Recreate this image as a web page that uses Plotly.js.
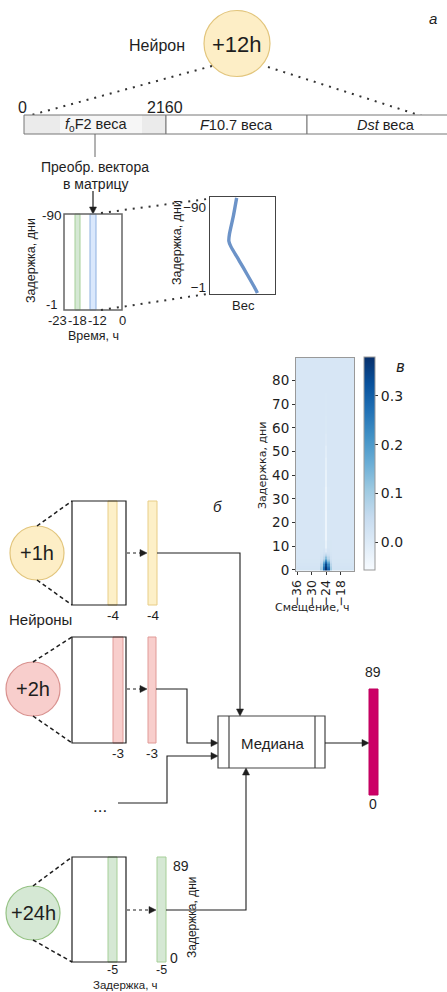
<!DOCTYPE html>
<html>
<head>
<meta charset="utf-8">
<script src="https://cdn.plot.ly/plotly-3.0.1.min.js"></script>
<style>html,body{margin:0;padding:0;background:#fff;}#chart{width:447px;height:992px;}</style>
</head>
<body>
<div id="chart"></div>
<script>
// ---------- data ----------
const topNeuron = '+12h';
const topNeuronLabel = 'Нейрон';
const vectorTicks = ['0', '2160'];
const segmentLabels = ['<i>f</i><sub>o</sub>F2 веса', '<i>F</i>10.7 веса', '<i>Dst</i> веса'];
const reshapeLabel = ['Преобр. вектора', 'в матрицу'];
const matrixTimeTicks = ['-23', '-18', '-12', '0'];
const matrixLagTicks = ['-90', '-1'];
const weightLag = [-100, -80, -60, -52, -46, -30, -15, -1, 6];
const weightValue = [0.41, 0.36, 0.30, 0.29, 0.32, 0.45, 0.57, 0.68, 0.73];
const weightLagTicks = [-90, -1];
const neurons = ['+1h', '+2h', '+24h'];
const neuronLead = ['-4', '-3', '-5'];
const outputTicks = ['89', '0'];

const hmShift = [-36, -35, -34, -33, -32, -31, -30, -29, -28, -27, -26, -25, -24, -23, -22, -21, -20, -19, -18, -17, -16, -15, -14, -13];
const hmLag = [0, 1, 2, 3, 4, 5, 6, 7, 8, 10, 15, 20, 30, 40, 45, 50, 55, 60, 70, 80, 89];
const hmBase = [0.022, 0.02, 0.018, 0.016, 0.015, 0.014, 0.014, 0.014, 0.014, 0.014, 0.014, 0.014, 0.014, 0.014, 0.014, 0.014, 0.014, 0.014, 0.014, 0.014, 0.014];
const hmColM26 = [0.1, 0.09, 0.07, 0.05, 0.035, 0.025, 0.02, 0.018, 0.016, 0.015, 0.014, 0.014, 0.014, 0.014, 0.014, 0.014, 0.014, 0.014, 0.014, 0.014, 0.014];
const hmColM25 = [0.28, 0.26, 0.22, 0.16, 0.1, 0.06, 0.04, 0.028, 0.02, 0.016, 0.012, 0.012, 0.012, 0.013, 0.014, 0.014, 0.014, 0.014, 0.014, 0.014, 0.014];
const hmColM24 = [0.38, 0.37, 0.34, 0.28, 0.21, 0.13, 0.07, 0.035, 0.0, -0.025, -0.035, -0.035, -0.032, -0.025, -0.018, -0.008, 0.003, 0.008, 0.012, 0.014, 0.014];
const hmColM23 = [0.3, 0.27, 0.23, 0.17, 0.11, 0.065, 0.04, 0.028, 0.02, 0.016, 0.012, 0.012, 0.012, 0.013, 0.014, 0.014, 0.014, 0.014, 0.014, 0.014, 0.014];
const hmColM22 = [0.1, 0.09, 0.07, 0.05, 0.035, 0.025, 0.02, 0.018, 0.016, 0.015, 0.014, 0.014, 0.014, 0.014, 0.014, 0.014, 0.014, 0.014, 0.014, 0.014, 0.014];
const hmShiftTicks = [-36, -30, -24, -18];
const hmLagTicks = [0, 10, 20, 30, 40, 50, 60, 70, 80];
const cbTicks = [0, 0.1, 0.2, 0.3];
const cbTickText = ['0.0', '0.1', '0.2', '0.3'];

// ---------- helpers ----------
const F = 'Liberation Sans, Arial, sans-serif';
const FD = 'DejaVu Sans, sans-serif';
const INK = '#1e1e1e';
const shapes = [];
const ann = [];
function rect(x0, y0, x1, y1, fill, lc, lw) {
  shapes.push({type: 'rect', xref: 'x', yref: 'y', x0, y0, x1, y1,
    fillcolor: fill || 'rgba(0,0,0,0)', line: {color: lc || 'rgba(0,0,0,0)', width: lw == null ? 1 : lw}});
}
function seg(x0, y0, x1, y1, color, lw, dash) {
  shapes.push({type: 'line', xref: 'x', yref: 'y', x0, y0, x1, y1, line: {color, width: lw, dash: dash || 'solid'}});
}
function path(d, color, lw, fill) {
  shapes.push({type: 'path', xref: 'x', yref: 'y', path: d, fillcolor: fill || 'rgba(0,0,0,0)', line: {color, width: lw}});
}
function circle(cx, cy, r, fill, lc) {
  shapes.push({type: 'circle', xref: 'x', yref: 'y', x0: cx - r, y0: cy - r, x1: cx + r, y1: cy + r,
    fillcolor: fill, line: {color: lc, width: 1.2}});
}
function head(x, y, dir) {
  const L = 7, H = 3.5; let d;
  if (dir === 'down') d = `M${x},${y} L${x - H},${y - L} L${x + H},${y - L} Z`;
  if (dir === 'up') d = `M${x},${y} L${x - H},${y + L} L${x + H},${y + L} Z`;
  if (dir === 'right') d = `M${x},${y} L${x - L},${y - H} L${x - L},${y + H} Z`;
  path(d, INK, 0.5, INK);
}
function txt(x, y, text, size, opt) {
  opt = opt || {};
  ann.push(Object.assign({xref: 'x', yref: 'y', x, y, text, showarrow: false, xanchor: 'center', yanchor: 'middle',
    font: {family: opt.family || F, size, color: opt.color || INK}}, opt.extra || {}));
}

// ---------- panel a ----------
txt(433, 18, '<i>а</i>', 15);
circle(237, 43.5, 33, '#fdeec6', '#e2c57c');
txt(237, 44, topNeuron, 22);
txt(157, 45, topNeuronLabel, 16);
seg(212, 66, 24, 117, '#333', 2, '2px,6px');
seg(268, 67, 447, 124, '#333', 2, '2px,6px');
txt(22, 107, vectorTicks[0], 16);
txt(165, 107, vectorTicks[1], 16);
// weight vector bar
rect(24, 115, 166, 134, '#ebebeb');
rect(60, 115, 142, 134, '#f6f6f6');
rect(24, 115, 166, 134, null, '#777', 1);
rect(166, 115, 307, 134, '#ffffff', '#777', 1);
rect(307, 115, 452, 134, '#ffffff', '#777', 1);
txt(96, 124.5, segmentLabels[0], 14.5);
txt(236, 124.5, segmentLabels[1], 14.5);
txt(386, 124.5, segmentLabels[2], 14.5);
seg(95, 134, 95, 157, '#666', 1);
txt(95, 167, reshapeLabel[0], 14);
txt(95, 184, reshapeLabel[1], 14);
seg(93, 191, 93, 207, INK, 1.2);
head(93, 214, 'down');
// matrix
rect(75, 214, 80, 310, '#d5e8d4', '#a6cf98', 1);
rect(90, 214, 96, 310, '#dae8fc', '#8eb0e0', 1);
rect(64, 214, 122, 310, null, '#666', 1.5);
txt(52, 215, matrixLagTicks[0], 13.5);
txt(52, 304, matrixLagTicks[1], 13);
txt(31, 261, 'Задержка, дни', 12.5, {extra: {textangle: -90}});
txt(57, 320, matrixTimeTicks[0], 13);
txt(77, 320, matrixTimeTicks[1], 13);
txt(97, 320, matrixTimeTicks[2], 13);
txt(122, 320, matrixTimeTicks[3], 13);
txt(93, 336, 'Время, ч', 12.5);
seg(101, 213, 207, 199, '#333', 2, '2px,6px');
seg(101, 310, 207, 294, '#333', 2, '2px,6px');
txt(177, 243, 'Задержка, дни', 12.5, {extra: {textangle: -90}});
txt(243, 305, 'Вес', 13);

// ---------- panel b ----------
txt(217, 506, '<i>б</i>', 15);
const nStyle = [
  {cx: 37, cy: 553, ay: 553, fill: '#fdeec6', lc: '#e2c57c', bandFill: '#fdf0c8', bandLine: '#e8cd86', top: 501, bot: 605, band: [108, 117], bar: [148, 157]},
  {cx: 33, cy: 689, ay: 689, fill: '#f8cecc', lc: '#d9928f', bandFill: '#f8cecc', bandLine: '#e09a97', top: 637, bot: 743, band: [113, 123], bar: [148, 156]},
  {cx: 33, cy: 913, ay: 910, fill: '#d5e8d4', lc: '#95c284', bandFill: '#d5e8d4', bandLine: '#a6cf98', top: 857, bot: 962, band: [108, 117], bar: [157, 166]}
];
neurons.forEach((name, i) => {
  const s = nStyle[i];
  circle(s.cx, s.cy, 27, s.fill, s.lc);
  txt(s.cx, s.cy, name, 20);
  seg(s.cx, s.cy - 27, 72, s.top, INK, 1.5, '4px,3px');
  seg(s.cx, s.cy + 27, 72, s.bot, INK, 1.5, '4px,3px');
  rect(s.band[0], s.top, s.band[1], s.bot, s.bandFill, s.bandLine, 1);
  rect(72, s.top, 126, s.bot, null, INK, 1.2);
  seg(127, s.ay, s.bar[0] - 7, s.ay, INK, 1.2, '3px,3px');
  head(s.bar[0] - 1, s.ay, 'right');
  rect(s.bar[0], s.top, s.bar[1], s.bot, s.bandFill, s.bandLine, 1);
  const ly = s.bot + (i === 2 ? 8 : 10);
  const fs = i === 2 ? 12.5 : 13.5;
  txt((s.band[0] + s.band[1]) / 2, ly, neuronLead[i], fs);
  txt((s.bar[0] + s.bar[1]) / 2, ly, neuronLead[i], fs);
});
txt(40, 619, 'Нейроны', 15);
txt(100, 806, '...', 17);
// connectors
path('M157,553 H240 V709', INK, 1.1);
head(240, 716, 'down');
path('M156,689 H187 V743 H211', INK, 1.1);
head(218, 743, 'right');
path('M118,803 H167 V756 H211', INK, 1.1);
head(218, 756, 'right');
path('M166,910 H246 V775', INK, 1.1);
head(246, 768, 'up');
// median
rect(218, 716, 325, 768, '#ffffff', '#444', 1.2);
seg(229, 716, 229, 768, '#444', 1.2);
seg(315, 716, 315, 768, '#444', 1.2);
txt(272, 743, 'Медиана', 15);
seg(325, 743, 362, 743, INK, 1.1);
head(369, 743, 'right');
rect(369, 689, 378, 795, '#cc0066', '#c0005f', 1);
txt(373, 672, outputTicks[0], 14);
txt(373, 804, outputTicks[1], 14);
// +24h axis labels
txt(181, 866, outputTicks[0], 14);
txt(174, 958, outputTicks[1], 14);
txt(192, 917, 'Задержка, дни', 12, {extra: {textangle: -90}});
txt(125, 984.5, 'Задержка, ч', 11.5);

// ---------- panel в (heatmap) ----------
txt(400, 367, '<i>в</i>', 15, {family: FD});
txt(262, 466, 'Задержка, дни', 11, {family: FD, extra: {textangle: -90}});
txt(312, 607, 'Смещение, ч', 11, {family: FD});

const colMap = {'-26': hmColM26, '-25': hmColM25, '-24': hmColM24, '-23': hmColM23, '-22': hmColM22};
const hmZ = hmLag.map((lag, i) => hmShift.map(s => colMap[String(s)] ? colMap[String(s)][i] : hmBase[i]));

const blues = [[0, '#f7fbff'], [0.125, '#deebf7'], [0.25, '#c6dbef'], [0.375, '#9ecae1'], [0.5, '#6baed6'],
  [0.625, '#4292c6'], [0.75, '#2171b5'], [0.875, '#08519c'], [1, '#08306b']];

const traces = [
  {type: 'scatter', x: [0], y: [0], mode: 'markers', marker: {opacity: 0}, xaxis: 'x', yaxis: 'y', hoverinfo: 'skip'},
  {type: 'heatmap', x: hmShift, y: hmLag, z: hmZ, xaxis: 'x2', yaxis: 'y2', colorscale: blues, zmin: -0.057, zmax: 0.38,
    colorbar: {x: 364 / 447, xanchor: 'left', xpad: 0, ypad: 0, y: (992 - 570) / 992, yanchor: 'bottom',
      lenmode: 'pixels', len: 213, thicknessmode: 'pixels', thickness: 11, outlinewidth: 1, outlinecolor: '#999',
      tickvals: cbTicks, ticktext: cbTickText, ticks: 'outside', ticklen: 3, tickcolor: '#333',
      tickfont: {family: FD, size: 14, color: INK}}},
  {type: 'scatter', x: weightValue, y: weightLag, xaxis: 'x3', yaxis: 'y3', mode: 'lines',
    line: {color: '#6c93c8', width: 3.4, shape: 'spline', smoothing: 0.6}, hoverinfo: 'skip'}
];

const layout = {
  width: 447, height: 992, margin: {l: 0, r: 0, t: 0, b: 0}, paper_bgcolor: '#ffffff', plot_bgcolor: 'rgba(0,0,0,0)',
  showlegend: false, font: {family: F, color: INK},
  xaxis: {domain: [0, 1], range: [0, 447], visible: false, fixedrange: true},
  yaxis: {domain: [0, 1], range: [992, 0], visible: false, fixedrange: true},
  xaxis2: {domain: [296 / 447, 354 / 447], anchor: 'y2', range: [-36.5, -12.5], tickvals: hmShiftTicks, tickangle: -90,
    ticks: 'outside', ticklen: 3, tickcolor: '#333', tickfont: {family: FD, size: 12.5, color: INK},
    showline: true, mirror: true, linecolor: '#999', linewidth: 1, showgrid: false, zeroline: false},
  yaxis2: {domain: [(992 - 571) / 992, (992 - 358) / 992], anchor: 'x2', range: [-0.5, 89.5], tickvals: hmLagTicks,
    ticks: 'outside', ticklen: 3, tickcolor: '#333', tickfont: {family: FD, size: 13.5, color: INK},
    showline: true, mirror: true, linecolor: '#999', linewidth: 1, showgrid: false, zeroline: false},
  xaxis3: {domain: [210 / 447, 275 / 447], anchor: 'y3', range: [0, 1], showticklabels: false, ticks: '',
    showline: true, mirror: true, linecolor: '#444', linewidth: 1.2, showgrid: false, zeroline: false},
  yaxis3: {domain: [(992 - 294) / 992, (992 - 197) / 992], anchor: 'x3', range: [7, -101], tickvals: weightLagTicks,
    ticks: '', tickfont: {family: F, size: 13.5, color: INK},
    showline: true, mirror: true, linecolor: '#444', linewidth: 1.2, showgrid: false, zeroline: false},
  shapes: shapes,
  annotations: ann
};

Plotly.newPlot('chart', traces, layout, {displayModeBar: false, staticPlot: true});
</script>
</body>
</html>
